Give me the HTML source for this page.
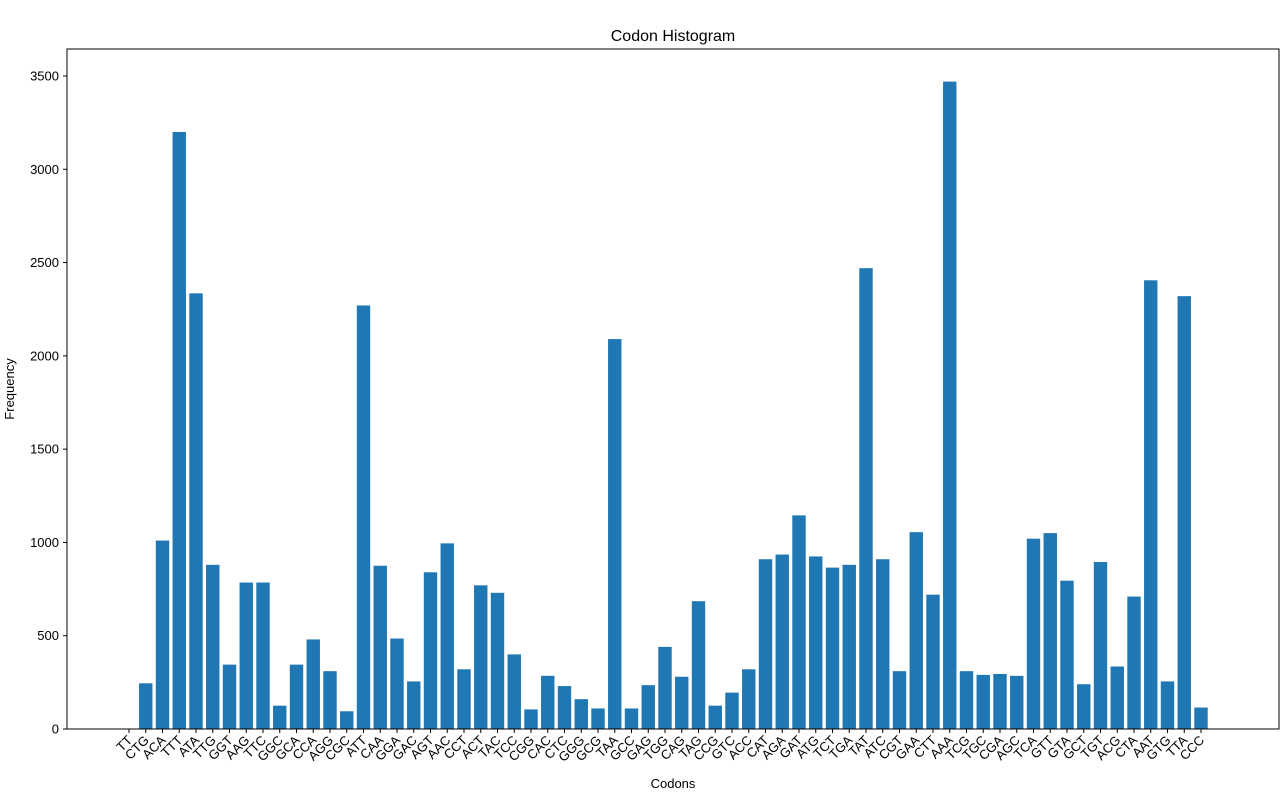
<!DOCTYPE html>
<html><head><meta charset="utf-8"><style>
body{margin:0;background:#fff;}
svg{display:block;font-family:"Liberation Sans",sans-serif;}
</style></head><body>
<svg id="chart" width="1280" height="796" xmlns="http://www.w3.org/2000/svg">
<text x="673" y="41" text-anchor="middle" font-size="16">Codon Histogram</text>
<text x="673" y="788" text-anchor="middle" font-size="13">Codons</text>
<text transform="translate(14,389) rotate(-90)" text-anchor="middle" font-size="13">Frequency</text>
<g id="bars"></g><g id="axes"></g>
</svg>
<script>
const categories=["TT","CTG","ACA","TTT","ATA","TTG","GGT","AAG","TTC","GGC","GCA","CCA","AGG","CGC","ATT","CAA","GGA","GAC","AGT","AAC","CCT","ACT","TAC","TCC","CGG","CAC","CTC","GGG","GCG","TAA","GCC","GAG","TGG","CAG","TAG","CCG","GTC","ACC","CAT","AGA","GAT","ATG","TCT","TGA","TAT","ATC","CGT","GAA","CTT","AAA","TCG","TGC","CGA","AGC","TCA","GTT","GTA","GCT","TGT","ACG","CTA","AAT","GTG","TTA","CCC"];
const frequencies=[0,245,1010,3200,2335,880,345,785,785,125,345,480,310,95,2270,875,485,255,840,995,320,770,730,400,105,285,230,160,110,2090,110,235,440,280,685,125,195,320,910,935,1145,925,865,880,2470,910,310,1055,720,3470,310,290,295,285,1020,1050,795,240,895,335,710,2405,255,2320,115];
const yTicks=[0,500,1000,1500,2000,2500,3000,3500];
const NS="http://www.w3.org/2000/svg";
const L=67,R=1279,T=49,B=729;
const x=i=>129+i*16.75;
const y=v=>729-v*(653/3500);
const bw=13.4;
const bars=document.getElementById('bars'),axes=document.getElementById('axes');
function mk(tag,attrs,parent){const e=document.createElementNS(NS,tag);for(const k in attrs)e.setAttribute(k,attrs[k]);parent.appendChild(e);return e;}
categories.forEach((c,i)=>{
  const v=frequencies[i];
  const r=mk('rect',{x:x(i)-bw/2,y:y(v),width:bw,height:Math.max(0,B-y(v)),fill:'#1f77b4'},bars);
  
  
  mk('line',{x1:x(i),x2:x(i),y1:B,y2:B+4,stroke:'#000'},axes);
  const t=mk('text',{x:0,y:0,'font-size':13,'text-anchor':'end',transform:`translate(${x(i)+4},${B+12}) rotate(-45)`},axes);
  t.textContent=c;
  
  
});
yTicks.forEach(v=>{
  mk('line',{x1:L-4,x2:L,y1:y(v),y2:y(v),stroke:'#000'},axes);
  const t=mk('text',{x:L-8,y:y(v)+4.5,'font-size':13,'text-anchor':'end'},axes);
  t.textContent=v;
  
  
});
const f=mk('rect',{x:L,y:T,width:R-L,height:B-T,fill:'none',stroke:'#000','stroke-width':1},axes);


</script>
</body></html>
